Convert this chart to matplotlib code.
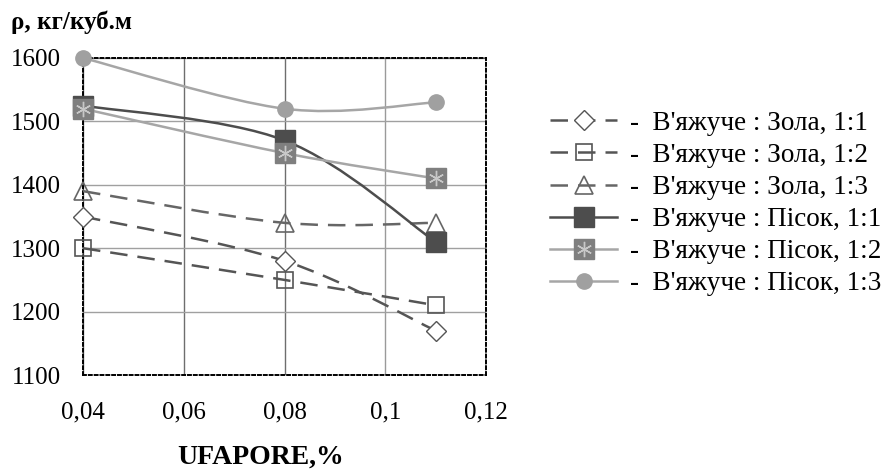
import numpy as np
import matplotlib.pyplot as plt
from matplotlib.path import Path
from matplotlib.patches import PathPatch
from matplotlib.lines import Line2D

plt.rcParams['font.family'] = ['Liberation Serif', 'DejaVu Serif']

# UFAPORE content, %
x = [0.04, 0.08, 0.11]

zola_11 = [1350, 1280, 1170]
zola_12 = [1300, 1250, 1210]
zola_13 = [1390, 1340, 1340]
pisok_11 = [1525, 1470, 1310]
pisok_12 = [1520, 1450, 1410]
pisok_13 = [1600, 1520, 1530]

labels = ["В'яжуче : Зола, 1:1", "В'яжуче : Зола, 1:2", "В'яжуче : Зола, 1:3",
          "В'яжуче : Пісок, 1:1", "В'яжуче : Пісок, 1:2", "В'яжуче : Пісок, 1:3"]

xticks = [0.04, 0.06, 0.08, 0.1, 0.12]
xticklabels = ['0,04', '0,06', '0,08', '0,1', '0,12']


def smooth_path(xs, ys):
    # excel-like smoothed line: catmull-rom segments as cubic beziers
    pts = np.column_stack([xs, ys]).astype(float)
    n = len(pts)
    verts = [pts[0]]
    codes = [Path.MOVETO]
    for i in range(n - 1):
        p0 = pts[i - 1] if i > 0 else pts[i]
        p1, p2 = pts[i], pts[i + 1]
        p3 = pts[i + 2] if i + 2 < n else pts[i + 1]
        c1 = p1 + (p2 - p0) / 6
        c2 = p2 - (p3 - p1) / 6
        verts += [c1, c2, p2]
        codes += [Path.CURVE4] * 3
    return Path(verts, codes)


fig = plt.figure(figsize=(8.88, 4.70), dpi=100)
ax = fig.add_axes([0.0935, 0.2021, 0.4538, 0.6745])

dark = '#555555'
mid = '#7f7f7f'
light = '#a6a6a6'
dash = (0, (7, 4))

series = [
    (zola_11, dict(color=dark, ls=dash, lw=1.8), dict(marker='D', ms=10, mfc='white', mec=dark, mew=1.0)),
    (zola_12, dict(color=dark, ls=dash, lw=1.8), dict(marker='s', ms=12, mfc='none', mec=dark, mew=1.2)),
    (zola_13, dict(color='#666666', ls=dash, lw=1.8), dict(marker='^', ms=13, mfc='none', mec='#666666', mew=1.2)),
    (pisok_11, dict(color='#4d4d4d', ls='-', lw=1.8), dict(marker='s', ms=14, mfc='#4d4d4d', mec='#4d4d4d', mew=1)),
    (pisok_12, dict(color=light, ls='-', lw=1.8), dict(marker='s', ms=14, mfc=mid, mec=mid, mew=1)),
    (pisok_13, dict(color=light, ls='-', lw=1.8), dict(marker='o', ms=11, mfc='#a0a0a0', mec='#a0a0a0', mew=1)),
]

handles = []
for i, (ys, lstyle, mstyle) in enumerate(series):
    z = 3 + i
    patch = PathPatch(smooth_path(x, ys), fill=False, edgecolor=lstyle['color'],
                      linestyle=lstyle['ls'], lw=lstyle['lw'], zorder=z, clip_on=False)
    ax.add_patch(patch)
    ax.plot(x, ys, linestyle='none', zorder=z + 0.5, clip_on=False, **mstyle)
    h = Line2D([], [], color=lstyle['color'], linestyle=lstyle['ls'],
               lw=lstyle['lw'], **mstyle)
    if i == 4:
        # asterisk on top of the grey square
        ax.plot(x, ys, linestyle='none', marker=(6, 2, 0), ms=11, mec='#c8c8c8',
                mew=1, zorder=z + 0.6, clip_on=False)
        h = (h, Line2D([], [], linestyle='none', marker=(6, 2, 0), ms=11,
                       mec='#c8c8c8', mew=1))
    handles.append(h)

ax.set_xlim(0.04, 0.12)
ax.set_ylim(1100, 1600)
ax.set_xticks(xticks)
ax.set_xticklabels(xticklabels)
ax.set_yticks(np.arange(1100, 1601, 100))
ax.tick_params(length=0, labelsize=18)
ax.tick_params(axis='x', pad=19)
ax.tick_params(axis='y', pad=16)

ax.xaxis.grid(True, color='#6e6e6e', lw=1.0)
ax.yaxis.grid(True, color='#a0a0a0', lw=1.0)
ax.get_xgridlines()[3].set_color('#9a9a9a')
ax.set_axisbelow(True)
for s in ax.spines.values():
    s.set_linestyle((0, (1.5, 1.5)))
    s.set_linewidth(1.4)
    s.set_color('black')
    s.set_zorder(2)

fig.text(0.012, 0.952, 'ρ, кг/куб.м', fontsize=18, fontweight='bold', va='center')
fig.text(0.293, 0.028, 'UFAPORE,%', fontsize=20, fontweight='bold', ha='center', va='center')

leg = fig.legend(handles, ['-  ' + l for l in labels], loc='center left',
                 bbox_to_anchor=(0.619, 0.567), frameon=False, fontsize=19.5,
                 borderpad=0, borderaxespad=0,
                 handlelength=2.5, handletextpad=0.45, labelspacing=0.26)

fig.savefig('out.png', dpi=100)
